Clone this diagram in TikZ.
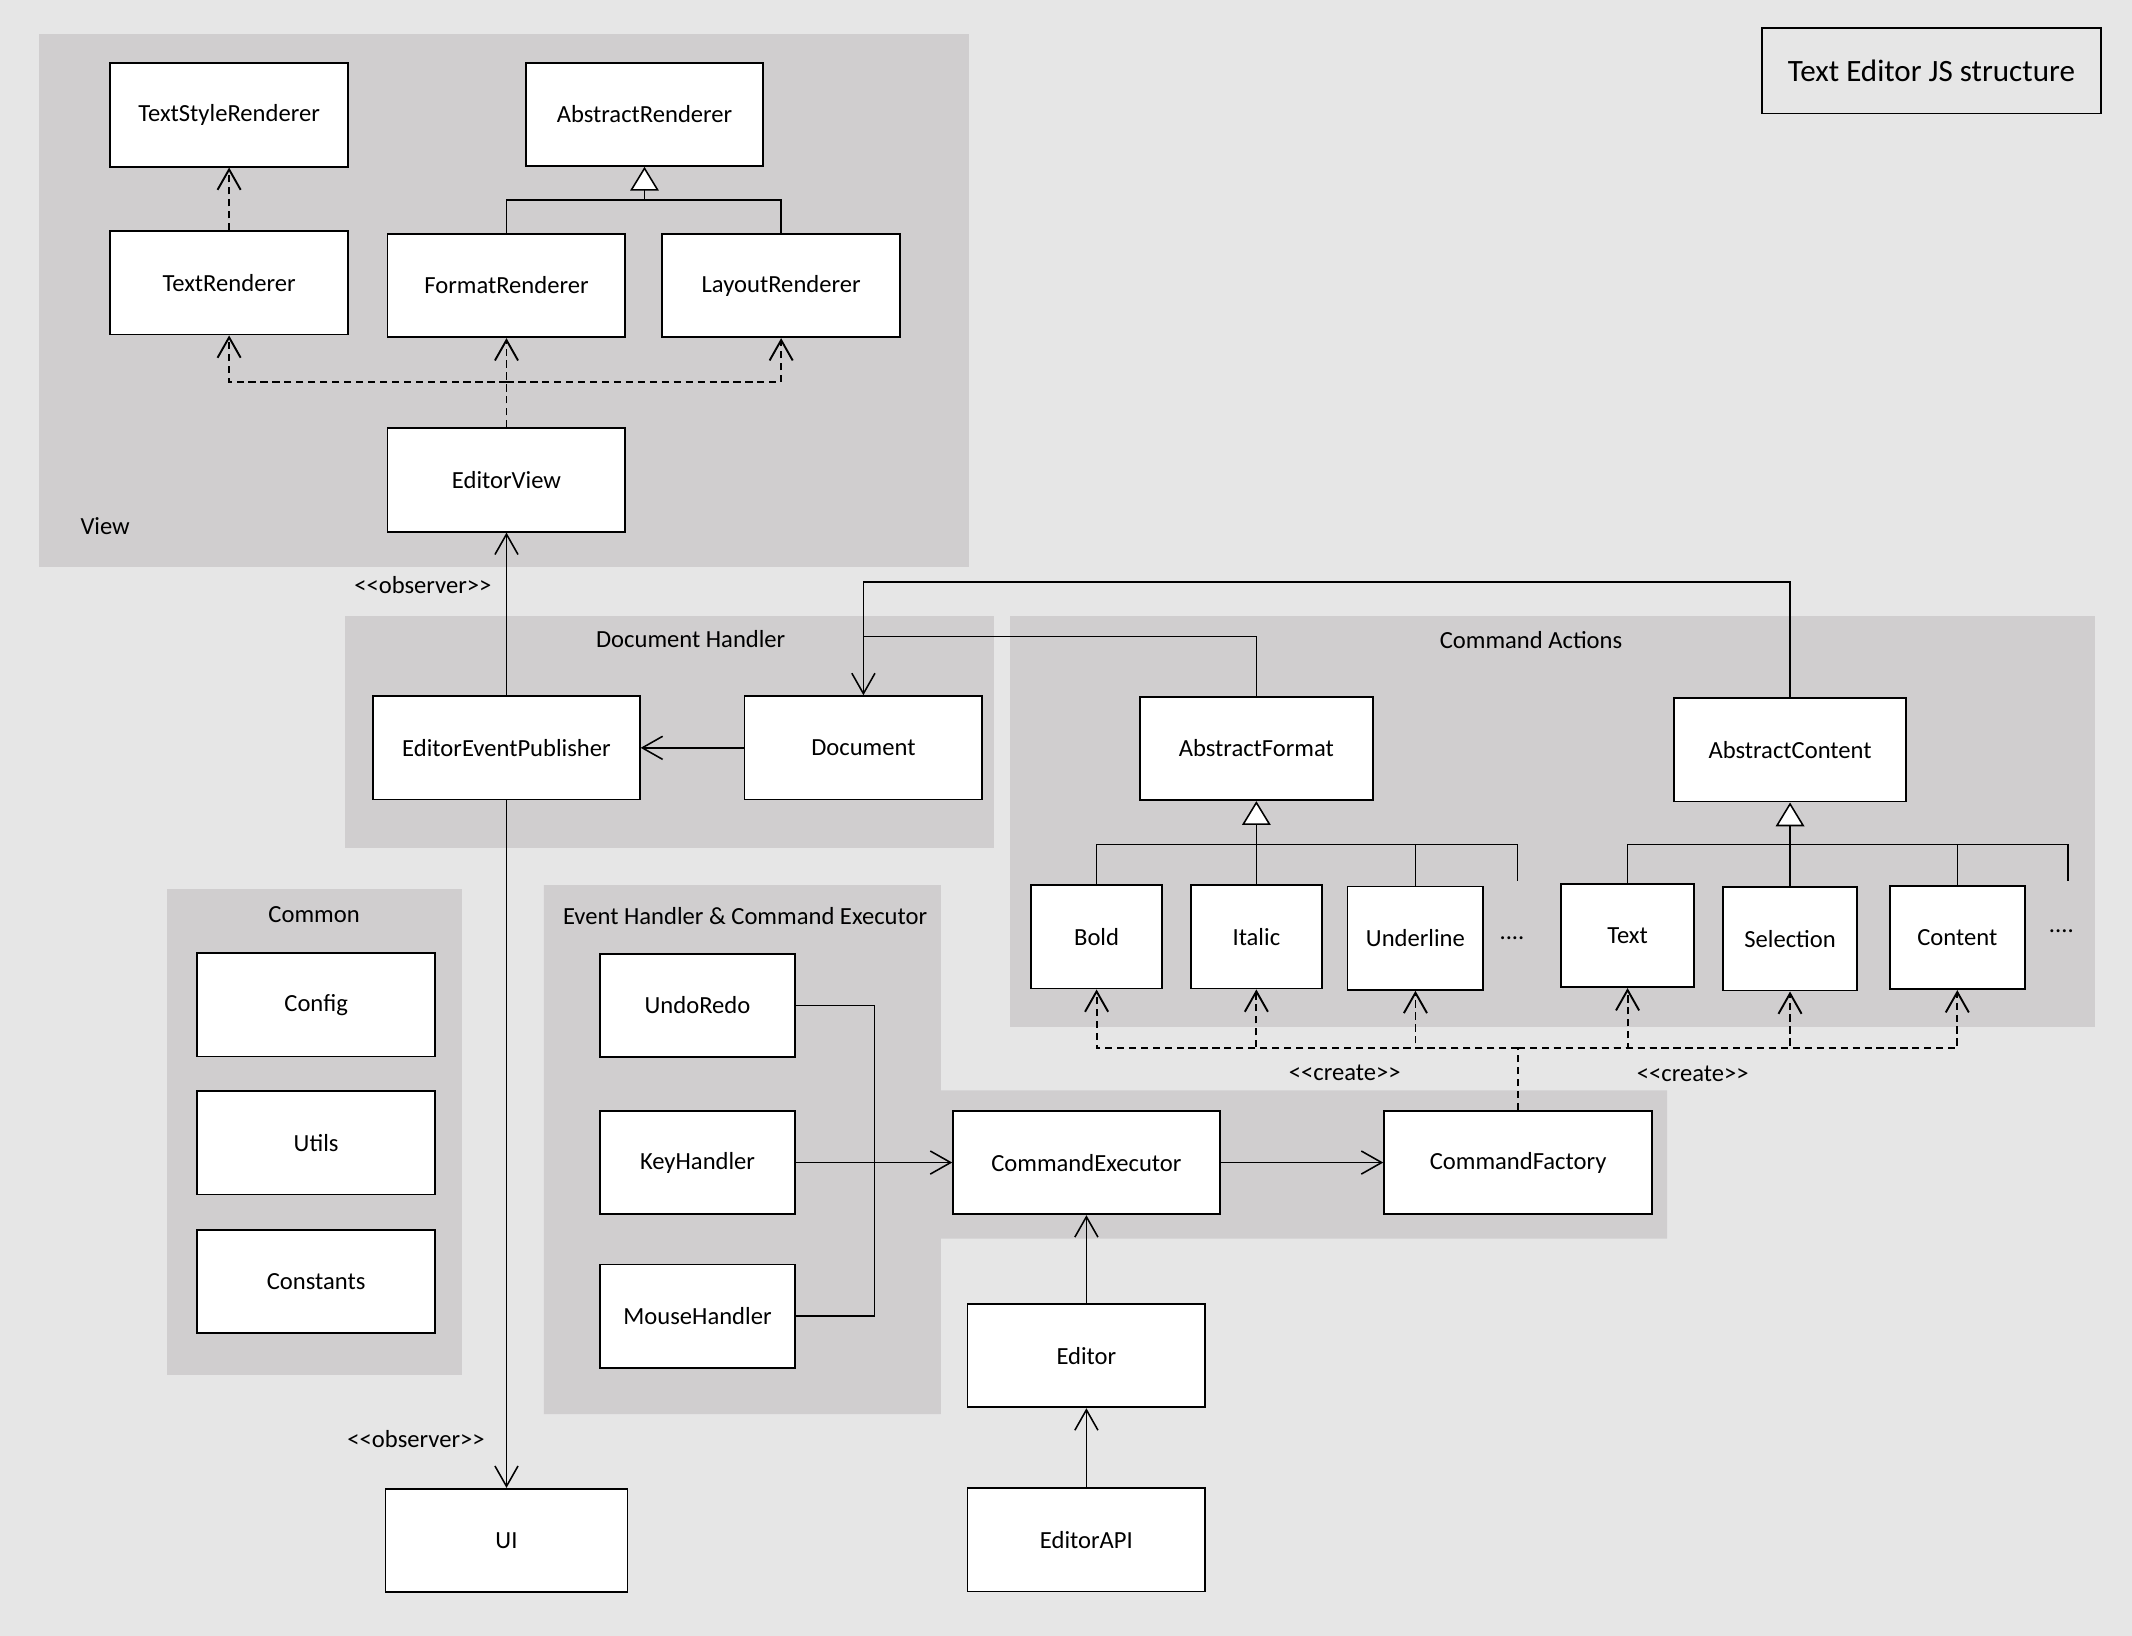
\documentclass[tikz,border=0pt]{standalone}
\usepackage{fontspec}
\setmainfont{Carlito}[Ligatures=TeXOff]
\usepackage{tikz}
\usetikzlibrary{arrows.meta}
\definecolor{canvas gray}{RGB}{230,230,230}
\definecolor{panel gray}{RGB}{208,206,207}

\tikzset{
	cls/.style={draw, fill=white, line width=0.8pt, minimum width=3.5cm, minimum height=1.52cm, inner sep=0pt, font=\fontsize{10.3}{12}\selectfont},
	conn/.style={line width=0.65pt},
	assoc/.style={conn, -{Straight Barb[length=0.3cm, width=0.34cm]}},
	dep/.style={assoc, line width=0.8pt, dash pattern=on 3pt off 2pt},
	depline/.style={conn, line width=0.8pt, dash pattern=on 3pt off 2pt},
	inherit/.style={conn, -{Triangle[length=0.35cm, width=0.42cm, fill=white]}},
	panel/.style={fill=panel gray},
	tag/.style={font=\fontsize{10.3}{12}\selectfont}
}

\begin{document}
\begin{tikzpicture}[x=0.02cm, y=-0.02cm]
			% canvas
			\fill[canvas gray] (0,0) rectangle (1568,1203);
			\useasboundingbox (0,0) rectangle (1568,1203);
			% panels
			\begin{scope}
				\fill[panel] (29,25) rectangle (713,417);
				\fill[panel] (254,453) rectangle (731,624);
				\fill[panel] (743,453) rectangle (1541,755);
				\fill[panel] (123,654) rectangle (340,1011);
				\fill[panel] (400,651) -- (692,651) -- (692,802) -- (1226,802)
					-- (1226,911) -- (692,911) -- (692,1040) -- (400,1040) -- cycle;
			\end{scope}
			% panel labels
			\node[tag, anchor=west] (viewlabel) at (53,387) {View};
			\node[tag] (doclabel) at (508,470) {Document Handler};
			\node[tag] (actlabel) at (1126,471) {Command Actions};
			\node[tag] (commonlabel) at (231,673) {Common};
			\node[tag] (eventlabel) at (548,674) {Event Handler \& Command Executor};
			% title
			\node[draw, line width=0.8pt, minimum width=4.98cm, minimum height=1.26cm, font=\fontsize{13}{15}\selectfont] (title) at (1420.5,52) {Text Editor JS structure};

			% part for view
			\node[cls] (textstyle) at (168.5,84.5) {TextStyleRenderer};
			\node[cls] (absrend) at (474,84) {AbstractRenderer};
			\node[cls] (textrend) at (168.5,208) {TextRenderer};
			\node[cls] (formatrend) at (372.5,210) {FormatRenderer};
			\node[cls] (layoutrend) at (574.5,210) {LayoutRenderer};
			\node[cls] (editorview) at (372.5,353) {EditorView};
			% part for document handler
			\node[cls, minimum width=3.92cm] (publisher) at (372.5,550) {EditorEventPublisher};
			\node[cls] (document) at (635,550) {Document};
			% part for command actions
			\node[cls, minimum width=3.42cm] (absformat) at (924,550.5) {AbstractFormat};
			\node[cls, minimum width=3.42cm] (abscontent) at (1316.5,551.5) {AbstractContent};
			\node[cls, minimum width=1.92cm] (bold) at (806.5,689) {Bold};
			\node[cls, minimum width=1.92cm] (italic) at (924,689) {Italic};
			\node[cls, minimum width=2cm] (underline) at (1041,690) {Underline};
			\node[tag] (fmtdots) at (1112,690) {....};
			\node[cls, minimum width=1.96cm] (text) at (1197,688) {Text};
			\node[cls, minimum width=1.98cm] (selection) at (1316.5,690.5) {Selection};
			\node[cls, minimum width=1.98cm] (content) at (1439.5,689.5) {Content};
			\node[tag] (cntdots) at (1516,685) {....};
			% part for common
			\node[cls] (config) at (232.5,739) {Config};
			\node[cls] (utils) at (232.5,840.5) {Utils};
			\node[cls] (constants) at (232.5,942.5) {Constants};
			% part for event handler
			\node[cls, minimum width=2.88cm] (undoredo) at (513,739.5) {UndoRedo};
			\node[cls, minimum width=2.88cm] (keyhandler) at (513,855) {KeyHandler};
			\node[cls, minimum width=2.88cm] (mousehandler) at (513,968) {MouseHandler};
			\node[cls, minimum width=3.92cm] (executor) at (799,855) {CommandExecutor};
			\node[cls, minimum width=3.94cm] (factory) at (1116.5,855) {CommandFactory};
			% outside
			\node[cls] (editor) at (799,997) {Editor};
			\node[cls] (editorapi) at (799,1132.5) {EditorAPI};
			\node[cls, minimum width=3.56cm] (ui) at (372.5,1133) {UI};

			% junctions
			\coordinate (rendjoin) at (474,147);
			\coordinate (viewsplit) at (372.5,281);
			\coordinate (doctop) at (635,428);
			\coordinate (fmtlink) at (635,468);
			\coordinate (fmtjoin) at (924,621);
			\coordinate (fmtmore) at (1116,648);
			\coordinate (cntjoin) at (1316.5,621);
			\coordinate (cntmore) at (1521,648);
			\coordinate (createbus) at (1116.5,771);
			\coordinate (handlerbus) at (643,855);

			% view links
			\draw[dep] (textrend.north) -- (textstyle.south);
			\draw[inherit] (rendjoin) -- (absrend.south);
			\draw[conn] (formatrend.north) |- (rendjoin) -| (layoutrend.north);
			\draw[dep] (editorview.north) -- (formatrend.south);
			\draw[dep] (viewsplit) -| (textrend.south);
			\draw[dep] (viewsplit) -| (layoutrend.south);
			% observers
			\draw[assoc] (publisher.north) -- (editorview.south);
			\node[tag] (obsview) at (311,430) {<<observer>>};
			\draw[assoc] (publisher.south) -- (ui.north);
			\node[tag] (obsui) at (306,1058) {<<observer>>};
			\draw[assoc] (document.west) -- (publisher.east);
			\draw[assoc] (abscontent.north) |- (doctop) -- (document.north);
			\draw[conn] (absformat.north) |- (fmtlink);
			% inheritance of actions
			\draw[inherit] (italic.north) -- (absformat.south);
			\draw[conn] (bold.north) |- (fmtjoin) -| (fmtmore);
			\draw[conn] (underline.north) |- (fmtjoin);
			\draw[inherit] (selection.north) -- (abscontent.south);
			\draw[conn] (text.north) |- (cntjoin) -| (cntmore);
			\draw[conn] (content.north) |- (cntjoin);
			% factory creates
			\draw[depline] (factory.north) -- (createbus);
			\foreach \target in {bold, italic, underline, text, selection, content}
				\draw[dep] (createbus) -| (\target.south);
			\node[tag] (createleft) at (989,789) {<<create>>};
			\node[tag] (createright) at (1245,790) {<<create>>};
			% executor
			\draw[conn] (undoredo.east) -| (handlerbus);
			\draw[conn] (mousehandler.east) -| (handlerbus);
			\draw[assoc] (keyhandler.east) -- (executor.west);
			\draw[assoc] (executor.east) -- (factory.west);
			\draw[assoc] (editor.north) -- (executor.south);
			\draw[assoc] (editorapi.north) -- (editor.south);
		\end{tikzpicture}
\end{document}
